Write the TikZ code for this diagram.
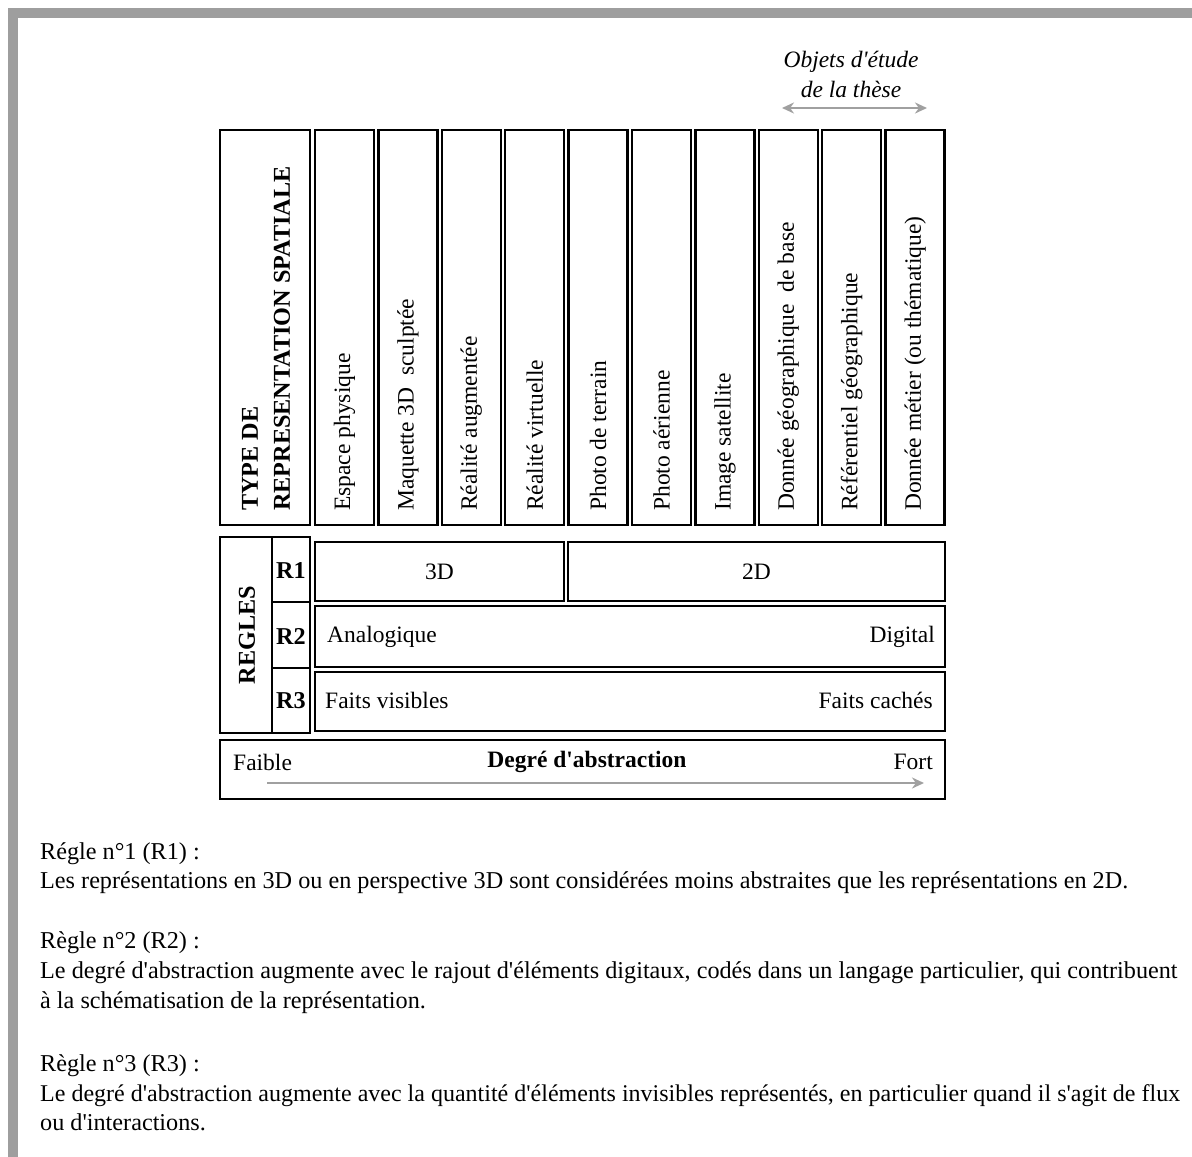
\documentclass[tikz,border=0pt]{standalone}
\usepackage{fontspec}
\setmainfont{Liberation Serif}[Ligatures=TeXOff]
\usetikzlibrary{arrows.meta}
\definecolor{bordergray}{RGB}{158,158,158}
\definecolor{arrowgray}{RGB}{160,160,160}
\tikzset{gtip/.tip={Stealth[length=12pt,width=11pt]}}
\begin{document}
\begin{tikzpicture}[x=1pt,y=-1pt,
  box/.style={draw=black, line width=2.4pt, inner sep=0pt, outer sep=0pt, fill=none},
  txt/.style={inner sep=0pt, font=\fontsize{23.5}{28}\selectfont},
  ptxt/.style={inner sep=0pt, anchor=base west, font=\fontsize{24.2}{29}\selectfont},
  btxt/.style={txt, font=\fontsize{24.2}{32}\selectfont\bfseries},
  garrow/.style={draw=arrowgray, line width=2pt}
]
\useasboundingbox (0,0) rectangle (1192,1157);
\fill[white] (0,0) rectangle (1192,1157);
% grey frame
\fill[bordergray] (8,8) rectangle (1192,18);
\fill[bordergray] (8,8) rectangle (18,1157);

% header box
\node[box, minimum width=90pt, minimum height=395pt] (type) at (265,327.5) {};
\node[btxt, rotate=90, anchor=west, align=left] (typelbl) at (266,511) {TYPE DE\\REPRESENTATION SPATIALE};

% columns
\foreach \i/\t in {0/{Espace physique},1/{Maquette 3D\ \ sculptée},2/{Réalité augmentée},3/{Réalité virtuelle},4/{Photo de terrain},5/{Photo aérienne},6/{Image satellite},7/{Donnée géographique\ \ de base},8/{Référentiel géographique},9/{Donnée métier (ou thématique)}}{
  \pgfmathsetmacro{\cx}{315+63.4*\i+29.5}
  \node[box, minimum width=59pt, minimum height=395pt] (c\i) at (\cx,327.5) {};
  \node[txt, rotate=90, anchor=west] (l\i) at (\cx,511) {\t};
}

% objets d'étude
\node[txt, font=\fontsize{23.5}{30}\selectfont\itshape, align=center, anchor=base] (obj) at (851,97) {Objets d'étude\\de la thèse};
\coordinate (oa) at (782,108);
\coordinate (ob) at (927,108);
\draw[garrow, gtip-gtip] (oa) -- (ob);

% rules block
\node[box, minimum width=52pt, minimum height=196pt] (regles) at (246,635) {};
\node[box, minimum width=38pt, minimum height=65pt] (r1) at (291,569.5) {};
\node[box, minimum width=38pt, minimum height=66pt] (r2) at (291,635) {};
\node[box, minimum width=38pt, minimum height=65pt] (r3) at (291,700.5) {};
\node[btxt, rotate=90] (regleslbl) at (247,635) {REGLES};
\node[btxt] (r1lbl) at (291,571) {R1};
\node[btxt] (r2lbl) at (291,636) {R2};
\node[btxt] (r3lbl) at (291,701) {R3};

\node[box, minimum width=249pt, minimum height=59pt] (b3d) at (439.5,571.5) {};
\node[box, minimum width=377pt, minimum height=59pt] (b2d) at (756.5,571.5) {};
\node[txt] (t3d) at (439.5,572) {3D};
\node[txt] (t2d) at (756.5,572) {2D};

\node[box, minimum width=630pt, minimum height=61pt] (br2) at (630,636.5) {};
\node[txt, anchor=west] (ana) at (327,637) {Analogique};
\node[txt, anchor=east] (dig) at (935,637) {Digital};

\node[box, minimum width=630pt, minimum height=59pt] (br3) at (630,701.5) {};
\node[txt, anchor=west] (fv) at (325,700) {Faits visibles};
\node[txt, anchor=east] (fc) at (933,700) {Faits cachés};

\node[box, minimum width=725pt, minimum height=59pt] (deg) at (582.5,769.5) {};
\node[txt, anchor=west] (faible) at (233,762) {Faible};
\node[txt, font=\fontsize{23.5}{28}\selectfont\bfseries] (degl) at (587,762) {Degré d'abstraction};
\node[txt, anchor=east] (fort) at (933,762) {Fort};
\coordinate (da) at (267,783);
\coordinate (db) at (924,783);
\draw[garrow, -gtip] (da) -- (db);

% rules text
\node[ptxt] (p1) at (40,859) {Régle n°1 (R1) :};
\node[ptxt] (p2) at (40,888) {Les représentations en 3D ou en perspective 3D sont considérées moins abstraites que les représentations en 2D.};
\node[ptxt] (p3) at (40,948) {Règle n°2 (R2) :};
\node[ptxt] (p4) at (40,978) {Le degré d'abstraction augmente avec le rajout d'éléments digitaux, codés dans un langage particulier, qui contribuent};
\node[ptxt] (p5) at (40,1008) {à la schématisation de la représentation.};
\node[ptxt] (p6) at (40,1071) {Règle n°3 (R3) :};
\node[ptxt, font=\fontsize{24}{29}\selectfont] (p7) at (40,1101) {Le degré d'abstraction augmente avec la quantité d'éléments invisibles représentés, en particulier quand il s'agit de flux};
\node[ptxt] (p8) at (40,1130) {ou d'interactions.};
\end{tikzpicture}
\end{document}
